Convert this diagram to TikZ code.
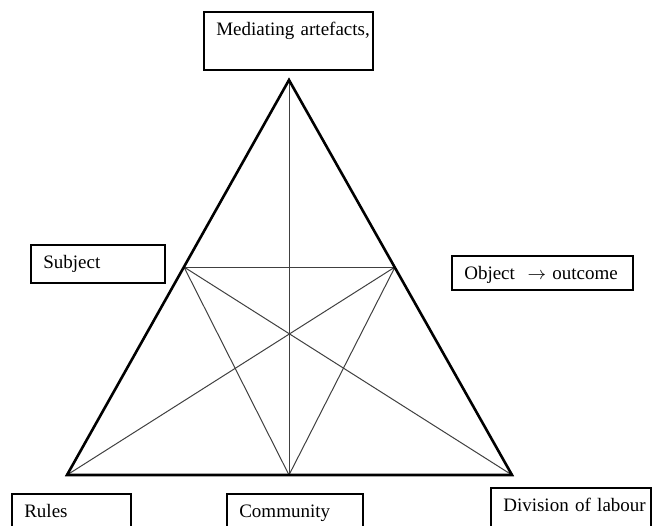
\documentclass[tikz,border=0pt]{standalone}
\usepackage{fontspec}
\setmainfont{Liberation Serif}
\usepackage{tikz}
\usetikzlibrary{calc}

\tikzset{
  labelbox/.style={draw,thick,anchor=north west,align=left,inner xsep=0pt,inner ysep=0pt,
    text height=11.75pt,font=\fontsize{9.5}{11.5}\selectfont},
  side/.style={line width=1.3pt},
  inner/.style={line width=0.5pt,black!75}
}
\newcommand{\boxtext}[1]{\hspace*{6.25pt}\mbox{#1}}

\begin{document}
\begin{tikzpicture}[x=0.5pt,y=-0.5pt]
  \useasboundingbox (0,0) rectangle (655,526);
  \clip (0,0) rectangle (655,526);
  % corners and side points of the triangle
  \coordinate (apex) at (289,80);
  \coordinate (bl) at (67,475);
  \coordinate (br) at (512,475);
  \coordinate (lm) at (184,267);
  \coordinate (rm) at (395,267);
  \coordinate (bm) at (289,475);
  % inner lines
  \draw[inner] (apex) -- (bm);
  \draw[inner] (lm) -- (rm);
  \draw[inner] (lm) -- (br) (lm) -- (bm);
  \draw[inner] (rm) -- (bl) (rm) -- (bm);
  \draw[side,line join=miter] (apex) -- (bl) -- (br) -- cycle;
  % boxes
  \node[labelbox,text width=84.5pt,text depth=17.25pt] (tools) at (203,11) {\boxtext{Mediating artefacts,}};
  \node[labelbox,text width=67pt,text depth=7.25pt] (subject) at (30,244) {\boxtext{Subject}};
  \node[labelbox,text width=90.5pt,text depth=5.25pt] (object) at (451,255) {\boxtext{Object~ $\rightarrow$ outcome}};
  \node[labelbox,text width=59.5pt,text depth=14pt] (rules) at (11,493) {\boxtext{Rules}};
  \node[labelbox,text width=68pt,text depth=14pt] (community) at (226,493) {\boxtext{Community}};
  \node[labelbox,text width=80pt,text depth=17pt] (division) at (490,487) {\boxtext{Division of labour}};
\end{tikzpicture}
\end{document}
